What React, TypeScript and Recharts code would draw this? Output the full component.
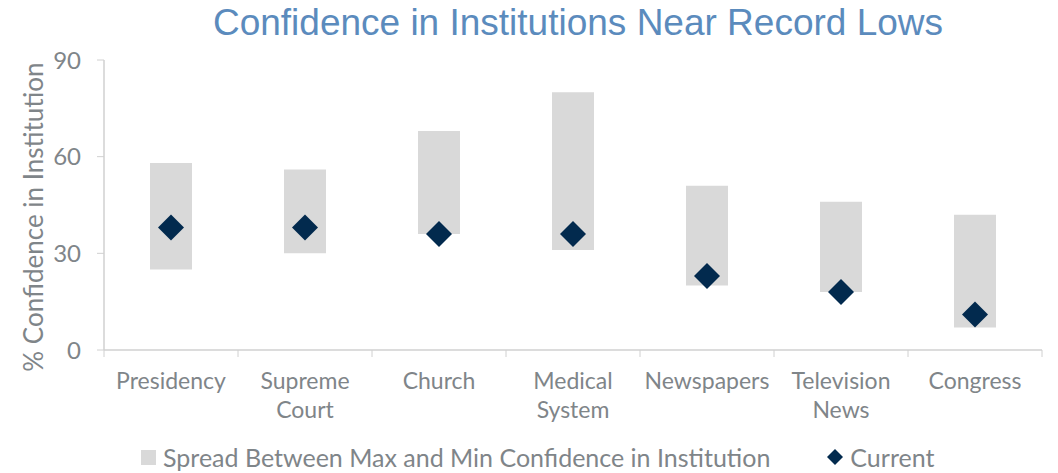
import React from "react";
import {
  ComposedChart,
  Bar,
  Scatter,
  XAxis,
  YAxis,
  Label,
  Legend,
} from "recharts";

const institutions = [
  "Presidency",
  "Supreme Court",
  "Church",
  "Medical System",
  "Newspapers",
  "Television News",
  "Congress",
];
const minConfidence = [25, 30, 36, 31, 20, 18, 7];
const maxConfidence = [58, 56, 68, 80, 51, 46, 42];
const currentConfidence = [38, 38, 36, 36, 23, 18, 11];
const yTicks = [0, 30, 60, 90];

const data = institutions.map((name, i) => ({
  name,
  spread: [minConfidence[i], maxConfidence[i]],
  current: currentConfidence[i],
}));

const FONT = "Lato, 'Noto Sans', sans-serif";
const GRAY_TEXT = "#7f8589";
const BAR_GRAY = "#d9d9d9";
const NAVY = "#022a4e";
const BAND = 134;

const Diamond = (props: any) => {
  const { cx, cy } = props;
  if (cx == null || cy == null) return null;
  const r = 13;
  return (
    <polygon
      points={`${cx},${cy - r} ${cx + r},${cy} ${cx},${cy + r} ${cx - r},${cy}`}
      fill={NAVY}
    />
  );
};

const CategoryTick = (props: any) => {
  const { x, y, payload, index } = props;
  const words = String(payload.value).split(" ");
  const left = x - BAND / 2;
  return (
    <g>
      <line x1={left} y1={y - 8} x2={left} y2={y - 1} stroke="#d0d0d0" />
      {index === institutions.length - 1 && (
        <line x1={left + BAND} y1={y - 8} x2={left + BAND} y2={y - 1} stroke="#d0d0d0" />
      )}
      <text
        x={x}
        y={y + 31}
        textAnchor="middle"
        fill={GRAY_TEXT}
        fontSize={23}
        fontFamily={FONT}
      >
        {words.map((w, i) => (
          <tspan key={i} x={x} dy={i === 0 ? 0 : 29}>
            {w}
          </tspan>
        ))}
      </text>
    </g>
  );
};

const LegendContent = () => (
  <div
    style={{
      display: "flex",
      alignItems: "center",
      fontFamily: FONT,
      fontSize: 25,
      color: GRAY_TEXT,
      paddingLeft: 141,
      paddingTop: 4,
    }}
  >
    <span style={{ width: 15, height: 15, background: BAR_GRAY, display: "inline-block", marginRight: 7 }} />
    <span>Spread Between Max and Min Confidence in Institution</span>
    <svg width={16} height={16} style={{ marginLeft: 57, marginRight: 7 }}>
      <polygon points="8,0 16,8 8,16 0,8" fill={NAVY} />
    </svg>
    <span>Current</span>
  </div>
);

export default function App() {
  return (
    <div style={{ position: "absolute", left: 0, top: 0, width: 1058, height: 473, background: "#fff" }}>
      <div
        style={{
          position: "absolute",
          left: 0,
          top: 2,
          width: 1156,
          textAlign: "center",
          fontFamily: "'Liberation Sans', Arial, sans-serif",
          fontSize: 37,
          color: "#5b8bbd",
        }}
      >
        Confidence in Institutions Near Record Lows
      </div>
      <ComposedChart
        width={1058}
        height={473}
        data={data}
        margin={{ top: 60, right: 16, left: 0, bottom: 0 }}
        barCategoryGap={46}
      >
        <XAxis
          dataKey="name"
          axisLine={{ stroke: "#d0d0d0", strokeWidth: 1.5 }}
          tickLine={false}
          tick={<CategoryTick />}
          interval={0}
          height={88}
        />
        <YAxis
          domain={[0, 90]}
          ticks={yTicks}
          width={104}
          axisLine={{ stroke: "#d0d0d0", strokeWidth: 1.5 }}
          tickLine={{ stroke: "#d0d0d0" }}
          tickSize={7}
          tickMargin={16}
          tick={{ fill: GRAY_TEXT, fontSize: 24, fontFamily: FONT }}
        >
          <Label
            value="% Confidence in Institution"
            angle={-90}
            position="insideLeft"
            offset={34}
            dy={12}
            style={{ textAnchor: "middle", fill: GRAY_TEXT, fontSize: 26, fontFamily: FONT }}
          />
        </YAxis>
        <Bar dataKey="spread" fill={BAR_GRAY} isAnimationActive={false} />
        <Scatter dataKey="current" shape={<Diamond />} isAnimationActive={false} />
        <Legend content={<LegendContent />} verticalAlign="bottom" height={35} />
      </ComposedChart>
    </div>
  );
}
